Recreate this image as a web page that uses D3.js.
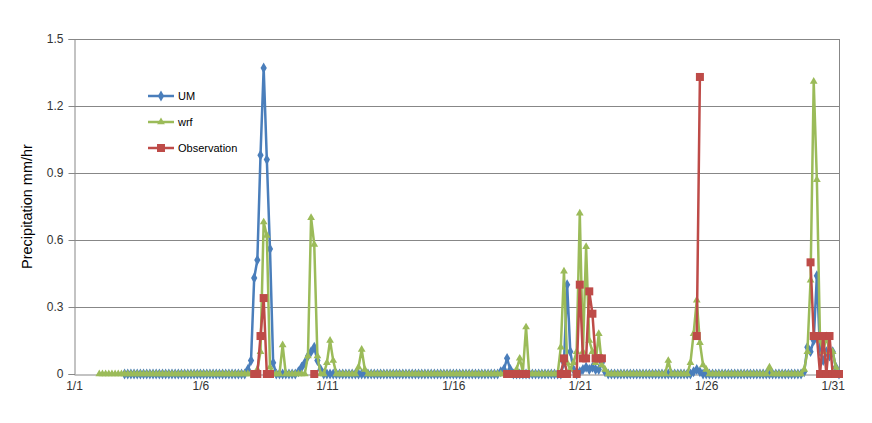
<!DOCTYPE html>
<html>
<head>
<meta charset="utf-8">
<script src="https://cdn.jsdelivr.net/npm/d3@7"></script>
<style>
  html, body { margin: 0; padding: 0; background: #fff; }
  svg { display: block; }
</style>
</head>
<body>
<svg id="chart" width="872" height="423"></svg>
<script>
const _ = null;
// 3-hourly steps from 1/1 00:00 (8 per day), last at 1/31 06:00
const xTickLabels = ["1/1", "1/6", "1/11", "1/16", "1/21", "1/26", "1/31"];
const yTickLabels = ["0", "0.3", "0.6", "0.9", "1.2", "1.5"];
const seriesNames = ["UM", "wrf", "Observation"];

const umValues = [
  _,_,_,_,_,_,_,_,                                  // 1/1
  _,_,_,_,_,_,_,_,                                  // 1/2
  0,0,0,0,0,0,0,0,                                  // 1/3
  0,0,0,0,0,0,0,0,                                  // 1/4
  0,0,0,0,0,0,0,0,                                  // 1/5
  0,0,0,0,0,0,0,0,                                  // 1/6
  0,0,0,0,0,0,0,0.02,                               // 1/7
  0.06,0.43,0.51,0.98,1.37,0.96,0.56,0.05,          // 1/8
  0,0,0,0,0,0,0,0.01,                               // 1/9
  0.03,0.05,0.08,0.1,0.12,0.06,0.02,0,              // 1/10
  0,0,0,0,0,0,0,0,                                  // 1/11
  0,0,0,0,0,0,0,0,                                  // 1/12
  0,0,0,0,0,0,0,0,                                  // 1/13
  0,0,0,0,0,0,0,0,                                  // 1/14
  0,0,0,0,0,0,0,0,                                  // 1/15
  0,0,0,0,0,0,0,0,                                  // 1/16
  0,0,0,0,0,0,0,0.01,                               // 1/17
  0.02,0.07,0.02,0,0,0,0,0,                         // 1/18
  0,0,0,0,0,0,0,0,                                  // 1/19
  0,0,0,0.05,0.40,0.1,0.02,0,                       // 1/20
  0.01,0.02,0.03,0.02,0.03,0.02,0.02,0.05,          // 1/21
  0.01,0,0,0,0,0,0,0,                               // 1/22
  0,0,0,0,0,0,0,0,                                  // 1/23
  0,0,0,0,0,0,0,0,                                  // 1/24
  0,0,0,0,0.01,0.02,0.01,0,                         // 1/25
  0,0,0,0,0,0,0,0,                                  // 1/26
  0,0,0,0,0,0,0,0,                                  // 1/27
  0,0,0,0,0,0,0,0,                                  // 1/28
  0,0,0,0,0,0,0,0.01,                               // 1/29
  0.12,0.1,0.15,0.44,0.1,0.06,0.1,0.08,             // 1/30
  0.1,0.03,0                                        // 1/31
];

const wrfValues = [
  _,_,_,_,_,_,_,_,                                  // 1/1
  0,0,0,0,0,0,0,0,                                  // 1/2
  0,0,0,0,0,0,0,0,                                  // 1/3
  0,0,0,0,0,0,0,0,                                  // 1/4
  0,0,0,0,0,0,0,0,                                  // 1/5
  0,0,0,0,0,0,0,0,                                  // 1/6
  0,0,0,0,0,0,0,0,                                  // 1/7
  0,0,0.02,0.1,0.68,0.62,0.03,0,                    // 1/8
  0,0,0.13,0,0,0,0,0,                               // 1/9
  0,0,0.08,0.70,0.58,0.08,0,0,                      // 1/10
  0.05,0.15,0.06,0,0,0,0,0,                         // 1/11
  0,0,0.03,0.11,0.02,0,0,0,                         // 1/12
  0,0,0,0,0,0,0,0,                                  // 1/13
  0,0,0,0,0,0,0,0,                                  // 1/14
  0,0,0,0,0,0,0,0,                                  // 1/15
  0,0,0,0,0,0,0,0,                                  // 1/16
  0,0,0,0,0,0,0,0,                                  // 1/17
  0,0,0,0,0.02,0.07,0.01,0.21,                      // 1/18
  0,0,0,0,0,0,0,0,                                  // 1/19
  0,0,0.12,0.46,0.05,0.02,0.05,0.1,                 // 1/20
  0.72,0.1,0.57,0.15,0.1,0.05,0.18,0.04,            // 1/21
  0.02,0,0,0,0,0,0,0,                               // 1/22
  0,0,0,0,0,0,0,0,                                  // 1/23
  0,0,0,0,0.06,0,0,0,                               // 1/24
  0,0,0,0.05,0.18,0.33,0.14,0.04,                   // 1/25
  0.02,0,0,0,0,0,0,0,                               // 1/26
  0,0,0,0,0,0,0,0,                                  // 1/27
  0,0,0,0,0.03,0,0,0,                               // 1/28
  0,0,0,0,0,0,0,0.02,                               // 1/29
  0.1,0.42,1.31,0.87,0.15,0.1,0.17,0.1,             // 1/30
  0.1,0.03,0                                        // 1/31
];

const obsValues = [
  _,_,_,_,_,_,_,_,                                  // 1/1
  _,_,_,_,_,_,_,_,                                  // 1/2
  _,_,_,_,_,_,_,_,                                  // 1/3
  _,_,_,_,_,_,_,_,                                  // 1/4
  _,_,_,_,_,_,_,_,                                  // 1/5
  _,_,_,_,_,_,_,_,                                  // 1/6
  _,_,_,_,_,_,_,_,                                  // 1/7
  _,0,0,0.17,0.34,0,0,_,                            // 1/8
  _,_,_,_,_,_,_,_,                                  // 1/9
  _,_,_,_,0,_,_,_,                                  // 1/10
  _,_,_,_,_,_,_,_,                                  // 1/11
  _,_,_,_,_,_,_,_,                                  // 1/12
  _,_,_,_,_,_,_,_,                                  // 1/13
  _,_,_,_,_,_,_,_,                                  // 1/14
  _,_,_,_,_,_,_,_,                                  // 1/15
  _,_,_,_,_,_,_,_,                                  // 1/16
  _,_,_,_,_,_,_,_,                                  // 1/17
  _,0,0,0,0,0,0,0,                                  // 1/18
  _,_,_,_,_,_,_,_,                                  // 1/19
  _,_,0,0.07,0,_,_,0,                               // 1/20
  0.40,0.07,0.07,0.37,0.27,0.07,0.07,0.07,          // 1/21
  _,_,_,_,_,_,_,_,                                  // 1/22
  _,_,_,_,_,_,_,_,                                  // 1/23
  _,_,_,_,_,_,_,_,                                  // 1/24
  _,_,_,_,_,0.17,1.33,_,                            // 1/25
  _,_,_,_,_,_,_,_,                                  // 1/26
  _,_,_,_,_,_,_,_,                                  // 1/27
  _,_,_,_,_,_,_,_,                                  // 1/28
  _,_,_,_,_,_,_,_,                                  // 1/29
  _,0.5,0.17,0.17,0,0.17,0,0.17,                    // 1/30
  0,0,0                                             // 1/31
];

const stepsPerDay = 8;
const xTickEveryDays = 5;

const svg = d3.select("#chart");
const W = 872, H = 423;
const margin = { left: 74, right: 33, top: 39, bottom: 49 };
const plotW = W - margin.left - margin.right;
const plotH = H - margin.top - margin.bottom;

const nSteps = umValues.length - 1;
const x = d3.scaleLinear().domain([0, nSteps]).range([margin.left, margin.left + plotW]);
const y = d3.scaleLinear().domain([0, 1.5]).range([margin.top + plotH, margin.top]);

const yTickVals = yTickLabels.map(Number);
const xTickVals = xTickLabels.map((_, i) => i * xTickEveryDays * stepsPerDay);

const fontFam = "'Liberation Sans', Arial, sans-serif";

// gridlines
svg.append("g")
  .selectAll("line")
  .data(yTickVals.filter(v => v > 0))
  .join("line")
  .attr("x1", margin.left).attr("x2", margin.left + plotW)
  .attr("y1", d => Math.round(y(d)) + 0.5).attr("y2", d => Math.round(y(d)) + 0.5)
  .attr("stroke", "#878787").attr("stroke-width", 1);

// right border
svg.append("line")
  .attr("x1", margin.left + plotW + 0.5).attr("x2", margin.left + plotW + 0.5)
  .attr("y1", margin.top).attr("y2", margin.top + plotH)
  .attr("stroke", "#878787").attr("stroke-width", 1);

// y axis
const yAxis = d3.axisLeft(y).tickValues(yTickVals)
  .tickFormat((d, i) => yTickLabels[i]).tickSize(6).tickPadding(5);
const gy = svg.append("g").attr("transform", `translate(${margin.left + 0.5},0)`).call(yAxis);
gy.select(".domain").attr("stroke", "#878787");
gy.selectAll(".tick line").attr("stroke", "#878787");
gy.selectAll(".tick text").attr("font-family", fontFam).attr("font-size", 12).attr("fill", "#333");

// x axis
const xAxis = d3.axisBottom(x).tickValues(xTickVals)
  .tickFormat((d, i) => xTickLabels[i]).tickSize(0).tickPadding(7);
const gx = svg.append("g").attr("transform", `translate(0,${margin.top + plotH + 0.5})`).call(xAxis);
gx.select(".domain").attr("stroke", "#878787");
gx.selectAll(".tick text").attr("font-family", fontFam).attr("font-size", 12).attr("fill", "#333");

// y title
svg.append("text")
  .attr("transform", `translate(32,${margin.top + plotH / 2}) rotate(-90)`)
  .attr("text-anchor", "middle")
  .attr("font-family", fontFam).attr("font-size", 14.5).attr("fill", "#000")
  .text("Precipitation mm/hr");

const colors = { UM: "#4A7EBB", wrf: "#9BBB59", Observation: "#BE4B48" };
const seriesData = [umValues, wrfValues, obsValues];

const line = d3.line()
  .defined(d => d.v !== null)
  .x(d => x(d.i)).y(d => y(d.v));

function marker(g, name, cx, cy) {
  if (name === "UM") {
    g.append("path").attr("d", d3.symbol(d3.symbolDiamond, 34)())
      .attr("transform", `translate(${cx},${cy})`).attr("fill", colors.UM);
  } else if (name === "wrf") {
    g.append("path").attr("d", d3.symbol(d3.symbolTriangle, 26)())
      .attr("transform", `translate(${cx},${cy})`).attr("fill", colors.wrf);
  } else {
    g.append("rect").attr("x", cx - 4).attr("y", cy - 4).attr("width", 8).attr("height", 8)
      .attr("fill", colors.Observation);
  }
}

seriesNames.forEach((name, si) => {
  const pts = seriesData[si].map((v, i) => ({ i, v }));
  const g = svg.append("g");
  g.append("path").datum(pts)
    .attr("d", line)
    .attr("fill", "none")
    .attr("stroke", colors[name])
    .attr("stroke-width", 2.5)
    .attr("stroke-linejoin", "round");
  pts.filter(p => p.v !== null).forEach(p => marker(g, name, x(p.i), y(p.v)));
});

// legend
const legend = svg.append("g");
seriesNames.forEach((name, i) => {
  const ly = 96 + i * 26;
  legend.append("line").attr("x1", 148).attr("x2", 174).attr("y1", ly).attr("y2", ly)
    .attr("stroke", colors[name]).attr("stroke-width", 2.5);
  marker(legend, name, 161, ly);
  legend.append("text").attr("x", 178).attr("y", ly + 4)
    .attr("font-family", fontFam).attr("font-size", 11).attr("fill", "#000")
    .text(name);
});
</script>
</body>
</html>
